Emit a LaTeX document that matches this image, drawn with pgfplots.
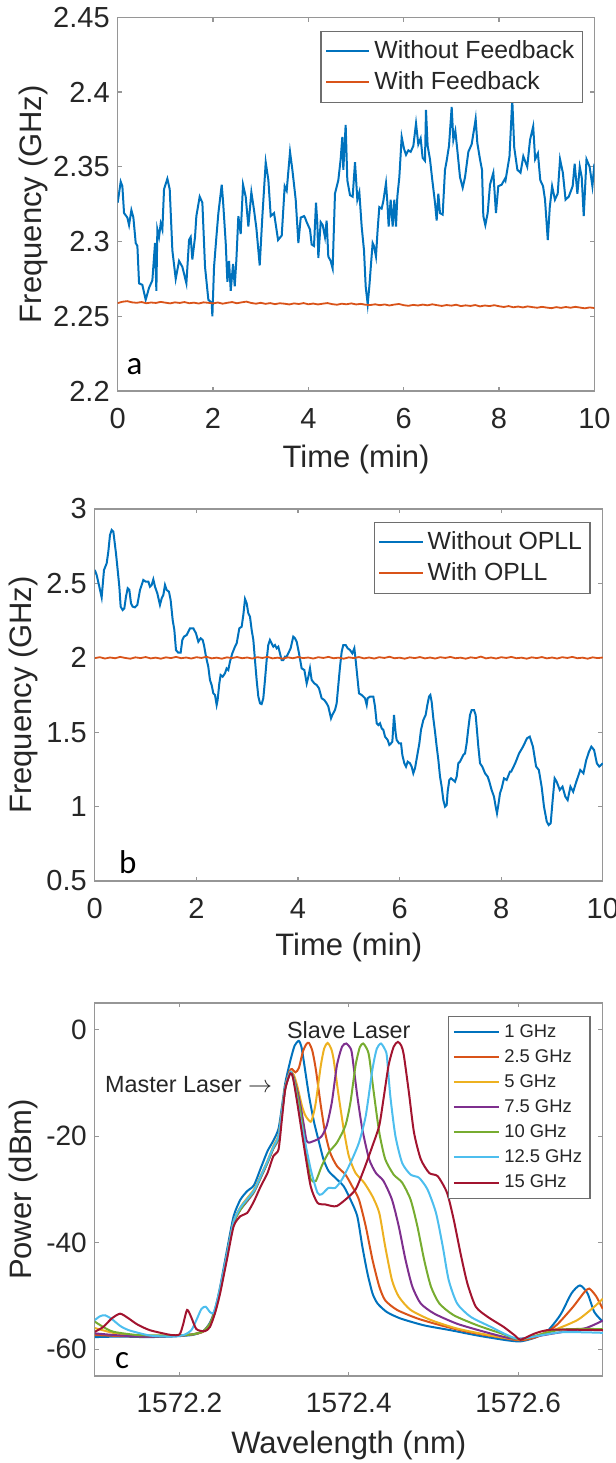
\documentclass[border=0pt]{standalone}
\usepackage{pgfplots}
\pgfplotsset{compat=1.18}
\usepackage{fontspec}
\setmainfont{Liberation Sans}
\newfontfamily\letterfont{Carlito}

\definecolor{mblue}{rgb}{0,0.447,0.741}
\definecolor{morange}{rgb}{0.850,0.325,0.098}
\definecolor{myellow}{rgb}{0.929,0.694,0.125}
\definecolor{mpurple}{rgb}{0.494,0.184,0.556}
\definecolor{mgreen}{rgb}{0.466,0.674,0.188}
\definecolor{mcyan}{rgb}{0.301,0.745,0.933}
\definecolor{mred}{rgb}{0.635,0.078,0.184}
\definecolor{axgray}{RGB}{150,150,150}
\definecolor{txt}{RGB}{38,38,38}
\definecolor{leggray}{RGB}{110,110,110}

\pgfplotsset{
  mstyle/.style={
    scale only axis,
    axis line style={axgray, line width=0.6pt},
    tick style={axgray, line width=0.6pt},
    tick align=inside,
    major tick length=2.2pt,
    tick label style={font=\fontsize{14.5}{16}\selectfont, text=txt},
    xticklabel style={yshift=-5pt},
    yticklabel style={xshift=-0.5pt},
    label style={font=\fontsize{15.5}{17}\selectfont, text=txt},
    /pgf/number format/assume math mode=true,
    /pgf/number format/set thousands separator={},
    legend cell align=left,
    legend image code/.code={\draw[##1, line width=1pt] (0pt,0pt) -- (21.7pt,0pt);},
    legend style={anchor=north east, draw=leggray, line width=0.6pt, text=txt,
      inner xsep=2pt, inner ysep=2.8pt, row sep=1pt},
  },
}

\begin{document}
\begin{tikzpicture}
\useasboundingbox (0,0) rectangle (308pt,731.5pt);

% --- panel a ---
\begin{axis}[mstyle,
    at={(58.85pt,536pt)}, anchor=south west,
    width=238.35pt, height=186.85pt,
    xmin=0, xmax=10, ymin=2.2, ymax=2.45,
    xtick={0,2,4,6,8,10},
    ytick={2.2,2.25,2.3,2.35,2.4,2.45},
    xlabel={Time (min)}, ylabel={Frequency (GHz)},
    xlabel style={at={(axis description cs:0.5,-0.182)}, anchor=center},
    ylabel style={at={(axis description cs:-0.176,0.5)}, anchor=center},
    legend style={at={(0.976,0.964)}, font=\fontsize{12.4}{14}\selectfont},
]
\addplot[mblue, line width=1pt] coordinates {
(0,2.326)(0.063,2.340)(0.098,2.337)(0.133,2.319)(0.203,2.316)(0.238,2.311)(0.287,2.321)(0.329,2.316)
(0.378,2.299)(0.413,2.297)(0.448,2.272)(0.517,2.271)(0.587,2.261)(0.657,2.269)(0.727,2.274)(0.783,2.299)
(0.811,2.267)(0.832,2.308)(0.867,2.303)(0.902,2.312)(0.937,2.308)(0.972,2.335)(1.042,2.342)(1.091,2.335)
(1.147,2.294)(1.217,2.275)(1.287,2.287)(1.357,2.283)(1.441,2.272)(1.497,2.301)(1.531,2.303)(1.566,2.288)
(1.622,2.303)(1.650,2.317)(1.720,2.330)(1.776,2.326)(1.832,2.283)(1.902,2.261)(1.972,2.259)(1.986,2.250)
(2.021,2.283)(2.070,2.303)(2.112,2.319)(2.182,2.338)(2.210,2.327)(2.266,2.299)(2.301,2.273)(2.336,2.287)
(2.371,2.267)(2.420,2.285)(2.455,2.270)(2.490,2.288)(2.531,2.317)(2.580,2.305)(2.629,2.338)(2.685,2.330)
(2.741,2.310)(2.804,2.333)(2.860,2.321)(2.909,2.309)(2.979,2.284)(3.035,2.317)(3.105,2.353)(3.161,2.341)
(3.210,2.317)(3.280,2.319)(3.364,2.301)(3.441,2.304)(3.503,2.337)(3.545,2.334)(3.615,2.360)(3.664,2.348)
(3.734,2.328)(3.790,2.299)(3.839,2.316)(3.909,2.317)
(3.929,2.316)(3.964,2.313)(4.034,2.308)(4.069,2.298)(4.118,2.297)(4.160,2.326)(4.188,2.312)(4.209,2.289)
(4.258,2.313)(4.300,2.311)(4.348,2.303)(4.383,2.314)(4.418,2.290)(4.467,2.287)(4.509,2.282)(4.558,2.332)
(4.628,2.341)(4.677,2.355)(4.712,2.370)(4.733,2.348)(4.782,2.378)(4.817,2.341)(4.873,2.331)(4.929,2.330)
(4.978,2.353)(5.027,2.328)(5.069,2.333)(5.118,2.310)(5.167,2.294)(5.202,2.270)(5.244,2.258)(5.279,2.270)
(5.314,2.285)(5.348,2.299)(5.376,2.297)(5.418,2.290)(5.453,2.308)(5.488,2.323)(5.537,2.322)(5.572,2.327)
(5.628,2.339)(5.657,2.326)(5.684,2.310)(5.726,2.328)(5.768,2.310)(5.803,2.328)(5.838,2.310)(5.866,2.330)
(5.908,2.343)(5.957,2.370)(6.006,2.362)(6.048,2.358)(6.097,2.361)(6.146,2.360)(6.202,2.364)(6.258,2.379)
(6.306,2.365)(6.355,2.369)(6.397,2.356)(6.446,2.354)(6.467,2.388)(6.502,2.364)(6.551,2.355)(6.600,2.341)
(6.656,2.326)(6.691,2.314)(6.726,2.332)(6.761,2.319)(6.817,2.318)(6.866,2.348)(6.901,2.354)(6.950,2.364)
(7.006,2.390)(7.041,2.368)(7.083,2.374)(7.125,2.361)(7.181,2.343)(7.237,2.336)(7.286,2.343)(7.356,2.360)
(7.425,2.365)(7.495,2.379)(7.509,2.382)(7.544,2.366)(7.600,2.355)(7.642,2.348)(7.670,2.317)(7.712,2.311)
(7.761,2.319)(7.810,2.338)(7.880,2.346)(7.935,2.319)(7.984,2.337)(8.054,2.338)(8.124,2.342)
(8.136,2.341)(8.219,2.357)(8.277,2.395)(8.318,2.363)(8.384,2.348)(8.450,2.346)(8.509,2.357)(8.591,2.350)
(8.650,2.368)(8.716,2.377)(8.757,2.355)(8.815,2.359)(8.865,2.341)(8.923,2.337)(8.964,2.328)(9.022,2.301)
(9.064,2.323)(9.113,2.337)(9.172,2.328)(9.230,2.332)(9.279,2.355)(9.338,2.346)(9.395,2.328)(9.462,2.330)
(9.544,2.337)(9.586,2.352)(9.643,2.332)(9.693,2.350)(9.734,2.343)(9.776,2.317)(9.834,2.355)(9.900,2.350)
(9.958,2.337)(10.0,2.352)
};
\addlegendentry{Without Feedback}
\addplot[morange, line width=0.9pt] coordinates {
(0,2.2588)(0.1,2.2597)(0.2,2.2601)(0.3,2.2593)(0.4,2.2590)(0.5,2.2595)(0.6,2.2587)(0.7,2.2592)(0.8,2.2589)(0.9,2.2596)
(1.0,2.2591)(1.1,2.2586)(1.2,2.2593)(1.3,2.2589)(1.4,2.2595)(1.5,2.2587)(1.6,2.2591)(1.7,2.2585)(1.8,2.2593)(1.9,2.2590)
(2.0,2.2586)(2.1,2.2592)(2.2,2.2584)(2.3,2.2590)(2.4,2.2595)(2.5,2.2587)(2.6,2.2593)(2.7,2.2598)(2.8,2.2589)(2.9,2.2584)
(3.0,2.2590)(3.1,2.2583)(3.2,2.2588)(3.3,2.2581)(3.4,2.2587)(3.5,2.2584)(3.6,2.2579)(3.7,2.2586)(3.8,2.2582)(3.9,2.2588)
(4.0,2.2580)(4.1,2.2585)(4.2,2.2579)(4.3,2.2584)(4.4,2.2588)(4.5,2.2581)(4.6,2.2577)(4.7,2.2584)(4.8,2.2580)(4.9,2.2586)
(5.0,2.2579)(5.1,2.2583)(5.2,2.2577)(5.3,2.2575)(5.4,2.2580)(5.5,2.2574)(5.6,2.2579)(5.7,2.2572)(5.8,2.2578)(5.9,2.2582)
(6.0,2.2574)(6.1,2.2570)(6.2,2.2576)(6.3,2.2572)(6.4,2.2578)(6.5,2.2573)(6.6,2.2580)(6.7,2.2574)(6.8,2.2569)(6.9,2.2575)
(7.0,2.2571)(7.1,2.2577)(7.2,2.2568)(7.3,2.2573)(7.4,2.2569)(7.5,2.2575)(7.6,2.2566)(7.7,2.2572)(7.8,2.2568)(7.9,2.2574)
(8.0,2.2567)(8.1,2.2562)(8.2,2.2568)(8.3,2.2560)(8.4,2.2565)(8.5,2.2559)(8.6,2.2566)(8.7,2.2561)(8.8,2.2557)(8.9,2.2563)
(9.0,2.2558)(9.1,2.2554)(9.2,2.2561)(9.3,2.2556)(9.4,2.2562)(9.5,2.2557)(9.6,2.2563)(9.7,2.2558)(9.8,2.2553)(9.9,2.2559)
(10.0,2.2555)
};
\addlegendentry{With Feedback}
\node[anchor=base west, inner sep=0pt, font=\letterfont\fontsize{16.5}{19}\selectfont] at (rel axis cs:0.018,0.043) {a};
\end{axis}

% --- panel b ---
\begin{axis}[mstyle,
    at={(47.4pt,291pt)}, anchor=south west,
    width=254pt, height=186pt,
    xmin=0, xmax=10, ymin=0.5, ymax=3,
    xtick={0,2,4,6,8,10},
    ytick={0.5,1,1.5,2,2.5,3},
    xlabel={Time (min)}, ylabel={Frequency (GHz)},
    xlabel style={at={(axis description cs:0.5,-0.18)}, anchor=center},
    ylabel style={at={(axis description cs:-0.14,0.5)}, anchor=center},
    legend style={at={(0.976,0.966)}, font=\fontsize{12.4}{14}\selectfont},
]
\addplot[mblue, line width=1pt] coordinates {
(0,2.590)(0.037,2.556)(0.089,2.478)(0.135,2.406)(0.181,2.590)(0.234,2.635)(0.266,2.713)(0.299,2.825)
(0.332,2.859)(0.365,2.848)(0.385,2.792)(0.417,2.702)(0.444,2.612)(0.483,2.478)(0.509,2.344)(0.548,2.321)
(0.581,2.332)(0.614,2.411)(0.647,2.467)(0.680,2.456)(0.713,2.366)(0.745,2.344)(0.791,2.339)(0.837,2.355)
(0.890,2.456)(0.955,2.523)(1.001,2.512)(1.054,2.512)(1.086,2.478)(1.119,2.489)(1.152,2.527)(1.185,2.478)
(1.231,2.433)(1.283,2.355)(1.316,2.400)(1.349,2.422)(1.382,2.489)(1.414,2.456)(1.460,2.444)(1.493,2.388)
(1.533,2.254)(1.566,2.187)(1.598,2.052)(1.644,2.034)(1.690,2.034)(1.723,2.120)(1.756,2.142)(1.808,2.153)
(1.874,2.198)(1.940,2.198)(1.992,2.164)(2.038,2.108)(2.084,2.131)(2.123,2.120)(2.149,2.086)(2.189,2.008)
(2.234,1.940)(2.267,1.851)(2.300,1.817)(2.333,1.761)(2.366,1.750)(2.399,1.683)(2.418,1.716)(2.451,1.828)
(2.477,1.884)(2.517,1.873)(2.563,1.896)(2.596,1.929)(2.628,1.918)(2.661,1.974)(2.707,2.030)(2.760,2.075)
(2.793,2.097)(2.845,2.198)(2.891,2.209)(2.924,2.288)(2.957,2.395)(2.990,2.366)(3.022,2.299)(3.055,2.276)
(3.088,2.187)(3.121,2.120)(3.153,1.985)(3.186,1.851)(3.219,1.739)(3.252,1.694)(3.284,1.689)(3.317,1.727)
(3.350,1.851)(3.383,1.985)(3.415,2.086)(3.448,2.120)(3.481,2.097)(3.514,2.075)(3.547,2.086)(3.580,2.064)
(3.612,2.075)(3.645,2.030)(3.678,1.985)(3.711,1.985)(3.743,2.008)(3.776,2.008)(3.809,2.030)(3.855,2.064)
(3.907,2.142)
(3.941,2.131)(3.974,2.108)(4.020,2.030)(4.072,1.929)(4.125,1.918)(4.171,1.828)(4.204,1.873)(4.236,1.929)
(4.269,1.851)(4.322,1.828)(4.368,1.817)(4.413,1.795)(4.466,1.728)(4.518,1.716)(4.564,1.694)(4.597,1.672)
(4.650,1.593)(4.676,1.616)(4.728,1.649)(4.761,1.694)(4.794,1.817)(4.827,1.940)(4.860,2.041)(4.892,2.086)
(4.938,2.086)(4.978,2.064)(5.024,2.052)(5.070,2.030)(5.109,2.064)(5.135,1.985)(5.168,1.873)(5.201,1.761)
(5.253,1.750)(5.286,1.739)(5.319,1.728)(5.352,1.683)(5.371,1.728)(5.417,1.739)(5.483,1.739)(5.516,1.672)
(5.549,1.560)(5.582,1.548)(5.614,1.560)(5.647,1.526)(5.680,1.515)(5.713,1.470)(5.765,1.448)(5.798,1.414)
(5.831,1.425)(5.857,1.436)(5.890,1.616)(5.923,1.492)(5.942,1.448)(5.988,1.425)(6.028,1.425)(6.054,1.347)
(6.093,1.291)(6.126,1.268)(6.159,1.302)(6.205,1.291)(6.238,1.268)(6.270,1.224)(6.303,1.257)(6.349,1.347)
(6.389,1.425)(6.421,1.515)(6.467,1.582)(6.513,1.616)(6.546,1.683)(6.579,1.739)(6.605,1.750)(6.631,1.705)
(6.664,1.593)(6.697,1.504)(6.730,1.403)(6.763,1.313)(6.796,1.201)(6.828,1.134)(6.861,1.044)(6.894,1.000)
(6.927,1.011)(6.946,1.100)(6.979,1.179)(7.012,1.190)(7.052,1.179)(7.091,1.167)(7.124,1.201)(7.156,1.291)
(7.189,1.302)(7.222,1.324)(7.255,1.347)(7.288,1.358)(7.320,1.425)(7.353,1.526)(7.386,1.616)(7.419,1.649)
(7.465,1.649)(7.497,1.616)(7.517,1.537)(7.550,1.403)(7.583,1.291)(7.629,1.268)(7.681,1.224)(7.734,1.201)
(7.767,1.167)(7.812,1.111)(7.858,1.067)(7.891,1.000)(7.917,0.955)(7.944,1.011)(7.976,1.089)(8.009,1.123)
(8.055,1.190)(8.108,1.179)(8.173,1.235)
(8.197,1.235)(8.275,1.291)(8.353,1.358)(8.430,1.403)(8.508,1.459)(8.562,1.470)(8.625,1.403)(8.687,1.269)
(8.741,1.246)(8.796,1.134)(8.842,1.000)(8.897,0.899)(8.935,0.876)(8.974,0.888)(9.013,1.044)(9.052,1.190)
(9.091,1.168)(9.153,1.112)(9.207,1.134)(9.262,1.067)(9.308,1.044)(9.363,1.134)(9.417,1.100)(9.479,1.168)
(9.557,1.246)(9.619,1.224)(9.674,1.313)(9.728,1.369)(9.775,1.403)(9.829,1.380)(9.883,1.291)(9.930,1.269)
(10.0,1.291)
};
\addlegendentry{Without OPLL}
\addplot[morange, line width=0.9pt] coordinates {
(0,1.998)(0.1,2.004)(0.2,1.995)(0.3,2.002)(0.4,1.997)(0.5,2.006)(0.6,1.999)(0.7,1.994)(0.8,2.003)(0.9,1.998)
(1.0,2.005)(1.1,1.996)(1.2,2.001)(1.3,1.994)(1.4,2.003)(1.5,1.998)(1.6,2.006)(1.7,1.997)(1.8,2.002)(1.9,1.995)
(2.0,2.004)(2.1,1.999)(2.2,2.007)(2.3,1.996)(2.4,2.001)(2.5,1.994)(2.6,2.003)(2.7,1.998)(2.8,2.005)(2.9,1.997)
(3.0,2.002)(3.1,1.995)(3.2,2.004)(3.3,1.999)(3.4,2.006)(3.5,1.996)(3.6,2.001)(3.7,1.994)(3.8,2.003)(3.9,1.997)
(4.0,2.005)(4.1,1.998)(4.2,2.002)(4.3,1.995)(4.4,2.004)(4.5,1.999)(4.6,2.006)(4.7,1.997)(4.8,2.001)(4.9,1.994)
(5.0,2.003)(5.1,1.998)(5.2,2.005)(5.3,1.996)(5.4,2.002)(5.5,1.995)(5.6,2.004)(5.7,1.999)(5.8,2.007)(5.9,1.997)
(6.0,2.001)(6.1,1.994)(6.2,2.003)(6.3,1.998)(6.4,2.005)(6.5,1.996)(6.6,2.002)(6.7,1.995)(6.8,2.004)(6.9,1.999)
(7.0,2.006)(7.1,1.997)(7.2,2.001)(7.3,1.994)(7.4,2.003)(7.5,1.998)(7.6,2.008)(7.7,1.996)(7.8,2.002)(7.9,1.995)
(8.0,2.004)(8.1,1.999)(8.2,2.006)(8.3,1.997)(8.4,2.001)(8.5,1.994)(8.6,2.003)(8.7,1.998)(8.8,2.005)(8.9,1.996)
(9.0,2.002)(9.1,1.995)(9.2,2.004)(9.3,1.999)(9.4,2.006)(9.5,1.997)(9.6,2.001)(9.7,1.994)(9.8,2.003)(9.9,1.998)
(10.0,2.002)
};
\addlegendentry{With OPLL}
\node[anchor=base west, inner sep=0pt, font=\letterfont\fontsize{16.5}{19}\selectfont] at (rel axis cs:0.047,0.021) {b};
\end{axis}

% --- panel c (x = wavelength - 1572 nm) ---
\begin{axis}[mstyle,
    at={(47.4pt,43.5pt)}, anchor=south west,
    width=254pt, height=186.5pt,
    xmin=0.1, xmax=0.7, ymin=-65, ymax=5,
    xtick={0.2,0.4,0.6}, xticklabels={1572.2,1572.4,1572.6},
    ytick={-60,-40,-20,0},
    tick label style={font=\fontsize{14}{16}\selectfont, text=txt},
    xlabel={Wavelength (nm)}, ylabel={Power (dBm)},
    xlabel style={at={(axis description cs:0.5,-0.185)}, anchor=center},
    ylabel style={at={(axis description cs:-0.14,0.5)}, anchor=center},
    legend style={at={(0.976,0.966)}, font=\fontsize{9.2}{11}\selectfont, inner ysep=2pt, row sep=0.6pt},
    legend image code/.code={\draw[#1, line width=1pt] (0pt,0pt) -- (22.7pt,0pt);},
]
\addplot[mblue, line width=1pt, smooth, tension=0.4] coordinates {
(0.100,-57.7)(0.130,-57.6)(0.160,-57.7)(0.190,-57.6)(0.215,-57.3)(0.228,-56.6)(0.236,-55.0)(0.242,-52.5)
(0.248,-48.3)(0.256,-41.5)(0.264,-35.0)(0.272,-31.9)(0.280,-30.3)(0.288,-29.2)(0.296,-26.0)(0.304,-22.8)
(0.311,-20.8)(0.317,-18.6)(0.321,-14.5)(0.325,-10.0)(0.331,-5.8)(0.336,-3.0)(0.341,-2.1)(0.344,-3.2)
(0.347,-6.1)(0.353,-12.4)(0.359,-17.4)(0.365,-21.2)(0.370,-24.3)(0.376,-26.5)(0.384,-27.8)(0.394,-29.4)
(0.402,-31.9)(0.410,-35.0)(0.416,-40.7)(0.422,-45.7)(0.428,-49.5)(0.434,-51.4)(0.445,-53.0)(0.461,-54.2)
(0.489,-55.5)(0.520,-56.4)(0.552,-57.4)(0.587,-58.3)(0.603,-58.5)(0.620,-57.8)(0.635,-56.5)(0.650,-53.5)
(0.663,-49.5)(0.673,-48.0)(0.682,-49.5)(0.690,-53.0)(0.700,-54.8)
};
\addlegendentry{1 GHz}
\addplot[morange, line width=1pt, smooth, tension=0.4] coordinates {
(0.100,-57.3)(0.130,-57.5)(0.160,-57.6)(0.190,-57.5)(0.215,-57.2)(0.228,-56.7)(0.236,-55.3)(0.242,-53.0)
(0.248,-49.0)(0.256,-42.5)(0.264,-36.0)(0.272,-33.5)(0.280,-31.8)(0.288,-30.2)(0.296,-27.5)(0.304,-24.8)
(0.311,-22.0)(0.317,-20.0)(0.321,-15.5)(0.325,-10.8)(0.330,-7.8)(0.333,-7.4)(0.337,-8.0)(0.341,-7.2)
(0.346,-4.0)(0.350,-2.7)(0.353,-2.5)(0.357,-4.0)(0.361,-7.4)(0.367,-14.3)(0.372,-19.3)(0.378,-23.1)
(0.386,-25.6)(0.396,-27.2)(0.404,-29.4)(0.412,-31.9)(0.420,-36.9)(0.428,-43.2)(0.436,-48.2)(0.443,-50.8)
(0.457,-52.6)(0.481,-54.2)(0.509,-55.5)(0.540,-56.7)(0.576,-57.7)(0.603,-58.3)(0.625,-57.5)(0.645,-55.5)
(0.665,-52.0)(0.678,-49.3)(0.684,-48.6)(0.692,-50.0)(0.700,-52.4)
};
\addlegendentry{2.5 GHz}
\addplot[myellow, line width=1pt, smooth, tension=0.4] coordinates {
(0.100,-56.0)(0.125,-57.0)(0.160,-57.5)(0.190,-57.5)(0.215,-57.2)(0.228,-56.6)(0.236,-55.2)(0.242,-52.8)
(0.248,-48.8)(0.256,-42.3)(0.264,-36.0)(0.272,-33.3)(0.280,-31.6)(0.288,-30.0)(0.296,-27.4)(0.304,-24.6)
(0.311,-21.8)(0.317,-19.8)(0.321,-15.3)(0.325,-10.6)(0.331,-7.9)(0.335,-8.5)(0.339,-10.5)(0.345,-14.5)
(0.349,-16.2)(0.355,-17.3)(0.358,-16.0)(0.361,-13.7)(0.367,-6.7)(0.371,-3.5)(0.375,-2.5)(0.379,-3.5)
(0.382,-5.5)(0.388,-12.4)(0.394,-18.7)(0.400,-23.7)(0.408,-26.9)(0.418,-28.7)(0.428,-31.3)(0.436,-34.4)
(0.443,-40.7)(0.451,-47.0)(0.459,-50.1)(0.473,-52.6)(0.497,-54.5)(0.528,-56.1)(0.568,-57.4)(0.603,-58.1)
(0.640,-56.5)(0.670,-54.5)(0.690,-52.0)(0.700,-50.5)
};
\addlegendentry{5 GHz}
\addplot[mpurple, line width=1pt, smooth, tension=0.4] coordinates {
(0.100,-57.0)(0.130,-57.4)(0.160,-57.6)(0.190,-57.5)(0.215,-57.2)(0.228,-56.6)(0.236,-55.2)(0.242,-52.8)
(0.248,-48.8)(0.256,-42.5)(0.264,-36.3)(0.272,-33.8)(0.280,-32.2)(0.288,-30.5)(0.296,-27.8)(0.304,-25.0)
(0.311,-22.3)(0.317,-20.5)(0.321,-15.8)(0.325,-11.0)(0.331,-8.0)(0.335,-9.0)(0.340,-12.0)(0.343,-14.3)
(0.347,-18.0)(0.350,-20.8)(0.353,-21.2)(0.357,-21.0)(0.363,-20.6)(0.368,-20.0)(0.374,-18.0)(0.380,-13.6)
(0.386,-6.7)(0.392,-3.2)(0.397,-2.6)(0.402,-3.5)(0.404,-4.8)(0.410,-12.4)(0.416,-18.7)(0.424,-24.3)
(0.432,-26.9)(0.441,-28.4)(0.451,-31.9)(0.459,-36.9)(0.467,-43.2)(0.475,-48.2)(0.485,-51.4)(0.501,-53.3)
(0.528,-55.2)(0.560,-56.7)(0.587,-57.8)(0.603,-58.0)(0.650,-56.8)(0.680,-56.0)(0.700,-54.6)
};
\addlegendentry{7.5 GHz}
\addplot[mgreen, line width=1pt, smooth, tension=0.4] coordinates {
(0.100,-54.8)(0.110,-55.8)(0.122,-56.7)(0.150,-57.3)(0.190,-57.4)(0.215,-57.2)(0.228,-56.6)(0.236,-55.2)
(0.242,-52.8)(0.248,-48.8)(0.256,-42.5)(0.264,-36.3)(0.272,-33.8)(0.280,-32.0)(0.288,-30.4)(0.296,-27.7)
(0.304,-24.9)(0.311,-22.2)(0.317,-20.3)(0.321,-15.7)(0.325,-11.0)(0.331,-8.0)(0.335,-9.2)(0.339,-12.0)
(0.343,-15.5)(0.351,-24.3)(0.355,-28.1)(0.361,-28.4)(0.368,-25.6)(0.376,-23.1)(0.386,-21.2)(0.396,-18.0)
(0.402,-13.6)(0.408,-6.7)(0.413,-3.3)(0.417,-2.6)(0.421,-3.5)(0.424,-5.0)(0.430,-12.4)(0.436,-19.3)
(0.443,-24.3)(0.453,-27.2)(0.463,-28.7)(0.473,-31.9)(0.481,-36.9)(0.489,-43.2)(0.497,-48.2)(0.507,-51.4)
(0.524,-53.6)(0.552,-55.5)(0.580,-57.0)(0.603,-58.1)(0.650,-56.3)(0.700,-56.2)
};
\addlegendentry{10 GHz}
\addplot[mcyan, line width=1pt, smooth, tension=0.4] coordinates {
(0.100,-54.5)(0.106,-53.8)(0.112,-53.6)(0.120,-54.3)(0.130,-55.6)(0.140,-56.4)(0.165,-57.4)(0.190,-57.6)
(0.205,-57.3)(0.214,-56.4)(0.220,-54.5)(0.226,-52.4)(0.231,-52.0)(0.236,-53.0)(0.240,-53.2)(0.244,-51.2)
(0.248,-48.5)(0.256,-42.3)(0.264,-36.0)(0.272,-33.4)(0.280,-31.8)(0.288,-30.2)(0.296,-27.5)(0.304,-24.7)
(0.311,-22.0)(0.317,-20.0)(0.321,-15.5)(0.325,-10.8)(0.331,-7.9)(0.335,-9.5)(0.343,-16.8)(0.355,-26.2)
(0.363,-30.6)(0.368,-30.9)(0.376,-29.7)(0.384,-29.7)(0.392,-28.1)(0.402,-25.0)(0.412,-21.2)(0.420,-16.2)
(0.428,-7.4)(0.433,-3.6)(0.438,-2.6)(0.443,-3.8)(0.445,-5.0)(0.449,-12.4)(0.455,-19.9)(0.463,-25.0)
(0.473,-27.2)(0.483,-27.8)(0.493,-30.0)(0.503,-34.4)(0.511,-40.7)(0.518,-47.0)(0.528,-51.4)(0.544,-53.9)
(0.568,-55.8)(0.587,-57.3)(0.603,-58.0)(0.650,-56.8)(0.700,-56.9)
};
\addlegendentry{12.5 GHz}
\addplot[mred, line width=1pt, smooth, tension=0.4] coordinates {
(0.100,-56.7)(0.110,-55.8)(0.120,-54.2)(0.130,-53.3)(0.140,-54.2)(0.150,-55.3)(0.165,-56.4)(0.190,-57.3)
(0.200,-57.2)(0.204,-55.5)(0.209,-52.6)(0.214,-54.0)(0.220,-56.2)(0.230,-56.6)(0.236,-55.8)(0.242,-53.2)
(0.248,-49.5)(0.256,-43.2)(0.264,-36.9)(0.272,-35.0)(0.280,-34.4)(0.288,-32.2)(0.296,-29.4)(0.304,-26.9)
(0.311,-23.7)(0.317,-22.5)(0.321,-16.8)(0.325,-11.1)(0.331,-8.2)(0.334,-9.0)(0.339,-13.6)(0.347,-21.8)
(0.355,-29.4)(0.363,-32.5)(0.372,-32.8)(0.380,-33.1)(0.386,-33.1)(0.396,-31.9)(0.408,-30.0)(0.418,-26.2)
(0.428,-21.8)(0.436,-18.0)(0.441,-13.0)(0.447,-6.7)(0.453,-3.2)(0.458,-2.3)(0.462,-3.0)(0.465,-4.8)
(0.471,-11.8)(0.477,-19.3)(0.485,-24.3)(0.495,-26.9)(0.505,-27.5)(0.516,-30.6)(0.524,-35.7)(0.532,-42.0)
(0.540,-47.6)(0.550,-52.0)(0.564,-53.9)(0.583,-55.8)(0.597,-57.5)(0.603,-58.2)(0.620,-57.0)(0.640,-56.3)
(0.700,-56.4)
};
\addlegendentry{15 GHz}
\node[anchor=base, inner sep=0pt, font=\fontsize{11.7}{13}\selectfont, text=txt] at (axis cs:0.400,-1.7) {Slave Laser};
\node[anchor=base east, inner sep=0pt, font=\fontsize{11.7}{13}\selectfont, text=txt] at (axis cs:0.310,-11.75) {Master Laser $\rightarrow$};
\node[anchor=base west, inner sep=0pt, font=\letterfont\fontsize{16.5}{19}\selectfont] at (rel axis cs:0.039,0.021) {c};
\end{axis}
\end{tikzpicture}
\end{document}
